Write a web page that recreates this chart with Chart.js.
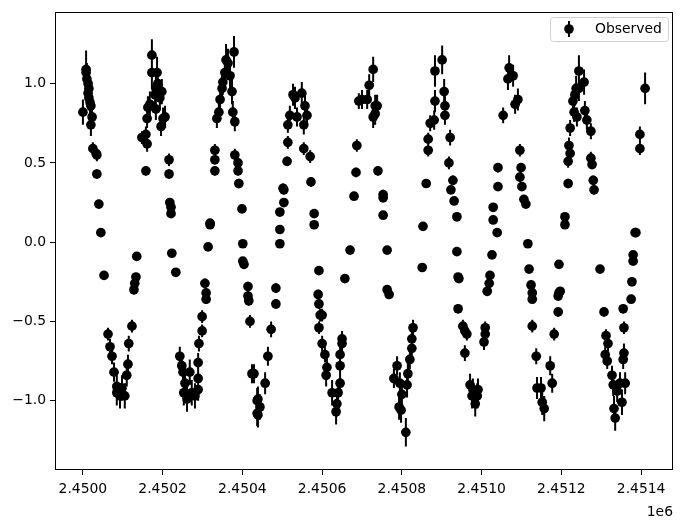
<!DOCTYPE html>
<html>
<head>
<meta charset="utf-8">
<script src="https://cdn.jsdelivr.net/npm/chart.js@4.4.0/dist/chart.umd.min.js"></script>
<style>
  html, body { margin: 0; padding: 0; background: #fff; }
  #wrap { width: 683px; height: 523px; }
</style>
</head>
<body>
<div id="wrap"><canvas id="chart-lc" width="683" height="523"></canvas></div>
<script>
// Light curve — observed magnitudes with error bars

const T0 = 2450000;

// days after T0
const tDays = [
    0, 8, 8, 10, 13, 15, 13, 15, 18, 20,
    23, 20, 25, 33, 35, 35, 40, 45, 53, 63,
    68, 73, 78, 85, 93, 105, 85, 98, 110, 113,
    115, 123, 128, 130, 133, 135, 148, 158, 161, 158,
    161, 163, 168, 173, 173, 183, 181, 186, 188, 183,
    193, 198, 201, 196, 206, 216, 216, 218, 221, 221,
    223, 233, 243, 248, 251, 256, 253, 261, 268, 273,
    281, 289, 289, 289, 291, 299, 299, 306, 309, 309,
    314, 319, 319, 331, 331, 331, 336, 341, 344, 349,
    351, 356, 359, 364, 369, 374, 379, 376, 381, 381,
    389, 389, 391, 399, 401, 401, 404, 414, 414, 416,
    419, 424, 429, 437, 437, 439, 444, 439, 457, 464,
    472, 484, 484, 494, 494, 494, 504, 504, 502, 512,
    514, 514, 519, 527, 532, 537, 549, 557, 562, 554,
    554, 570, 572, 580, 580, 592, 590, 592, 600, 595,
    592, 600, 607, 612, 610, 625, 637, 635, 640, 645,
    645, 645, 650, 650, 657, 670, 680, 685, 687, 692,
    700, 713, 718, 728, 733, 738, 728, 733, 740, 753,
    753, 753, 763, 763, 768, 780, 788, 795, 800, 793,
    798, 810, 813, 815, 820, 825, 825, 828, 851, 853,
    861, 866, 866, 871, 881, 883, 883, 901, 906, 908,
    908, 921, 918, 928, 923, 931, 938, 938, 941, 943,
    941, 953, 958, 963, 958, 971, 978, 991, 984, 976,
    989, 1009, 1009, 1006, 1014, 1019, 1021, 1026, 1039, 1029,
    1029, 1041, 1041, 1054, 1066, 1069, 1079, 1084, 1091, 1096,
    1099, 1096, 1101, 1106, 1111, 1116, 1119, 1124, 1127, 1127,
    1127, 1137, 1139, 1149, 1152, 1157, 1172, 1177, 1182, 1192,
    1192, 1194, 1194, 1197, 1209, 1209, 1217, 1217, 1222, 1219,
    1222, 1232, 1229, 1234, 1237, 1244, 1244, 1239, 1257, 1259,
    1264, 1274, 1274, 1277, 1280, 1282, 1297, 1307, 1312, 1317,
    1310, 1315, 1327, 1330, 1332, 1335, 1340, 1347, 1352, 1355,
    1357, 1360, 1357, 1355, 1375, 1377, 1380, 1380, 1385, 1387,
    1397, 1397, 1410
];

const mag = [
    0.82, 1.09, 1.07, 1.03, 1.00, 0.97, 0.94, 0.91, 0.88, 0.86,
    0.79, 0.74, 0.59, 0.56, 0.55, 0.43, 0.24, 0.06, -0.21, -0.58,
    -0.66, -0.72, -0.82, -0.91, -0.97, -0.97, -0.95, -0.92, -0.84, -0.77,
    -0.64, -0.53, -0.30, -0.26, -0.22, -0.09, 0.66, 0.68, 0.62, 0.45,
    0.78, 0.85, 0.87, 1.18, 1.07, 0.97, 0.93, 1.07, 1.00, 0.84,
    0.91, 0.95, 0.78, 0.73, 0.79, 0.52, 0.43, 0.25, 0.22, 0.18,
    -0.07, -0.19, -0.72, -0.78, -0.82, -0.89, -0.95, -0.99, -0.82, -0.95,
    -0.97, -0.93, -0.86, -0.76, -0.64, -0.56, -0.47, -0.26, -0.32, -0.36,
    -0.03, 0.12, 0.11, 0.45, 0.52, 0.58, 0.78, 0.82, 0.90, 0.97,
    1.01, 1.07, 1.15, 1.13, 1.05, 0.95, 1.20, 0.82, 0.76, 0.55,
    0.50, 0.45, 0.37, 0.21, -0.01, -0.12, -0.14, -0.28, -0.34, -0.37,
    -0.50, -0.83, -0.83, -1.00, -1.08, -0.99, -1.04, -1.09, -0.89, -0.72,
    -0.55, -0.39, -0.29, -0.01, 0.08, 0.19, 0.25, 0.33, 0.34, 0.51,
    0.63, 0.74, 0.80, 0.93, 0.91, 0.79, 0.94, 0.86, 0.80, 0.74,
    0.59, 0.54, 0.38, 0.18, 0.11, -0.18, -0.33, -0.39, -0.46, -0.46,
    -0.54, -0.64, -0.71, -0.79, -0.84, -0.95, -1.02, -1.07, -0.95, -0.89,
    -0.78, -0.71, -0.61, -0.64, -0.23, -0.05, 0.29, 0.44, 0.61, 0.89,
    0.90, 0.90, 0.99, 1.09, 0.86, 0.86, 0.79, 0.81, 0.45, 0.30,
    0.28, 0.17, -0.05, -0.30, -0.33, -0.86, -0.78, -0.89, -0.96, -1.04,
    -1.06, -1.20, -0.90, -0.83, -0.74, -0.67, -0.61, -0.54, -0.16, 0.10,
    0.37, 0.58, 0.65, 0.75, 0.77, 0.89, 1.08, 1.15, 0.95, 0.86,
    0.80, 0.66, 0.50, 0.39, 0.33, 0.26, 0.16, -0.06, -0.22, -0.23,
    -0.42, -0.53, -0.56, -0.58, -0.70, -0.90, -0.93, -0.93, -1.02, -0.97,
    -0.97, -0.54, -0.58, -0.63, -0.31, -0.26, -0.21, -0.08, 0.06, 0.14,
    0.22, 0.35, 0.47, 0.80, 1.03, 1.10, 1.05, 0.87, 0.90, 0.58,
    0.47, 0.41, 0.35, 0.27, 0.24, -0.01, -0.17, -0.27, -0.32, -0.36,
    -0.53, -0.72, -0.92, -0.92, -1.01, -1.05, -0.78, -0.89, -0.58, -0.44,
    -0.34, -0.32, -0.14, -0.31, 0.16, 0.11, 0.37, 0.51, 0.56, 0.61,
    0.72, 0.82, 0.89, 0.93, 0.97, 1.08, 0.97, 0.79, 1.01, 0.83,
    0.77, 0.70, 0.53, 0.49, 0.39, 0.33, -0.17, -0.44, -0.59, -0.64,
    -0.71, -0.75, -0.84, -0.90, -1.05, -1.11, -0.94, -0.89, -1.01, -0.74,
    -0.70, -0.89, -0.54, -0.42, -0.36, -0.25, -0.12, -0.08, 0.06, 0.06,
    0.59, 0.68, 0.97
];

const magErr = [
    0.08, 0.12, 0.10, 0.10, 0.10, 0.08, 0.08, 0.08, 0.08, 0.07,
    0.07, 0.07, 0.04, 0.03, 0.04, 0.03, 0.02, 0.02, 0.02, 0.04,
    0.05, 0.05, 0.06, 0.07, 0.08, 0.08, 0.08, 0.08, 0.07, 0.06,
    0.05, 0.04, 0.03, 0.03, 0.02, 0.02, 0.04, 0.05, 0.05, 0.03,
    0.06, 0.07, 0.08, 0.10, 0.10, 0.08, 0.08, 0.10, 0.09, 0.07,
    0.08, 0.08, 0.07, 0.06, 0.07, 0.04, 0.03, 0.02, 0.02, 0.02,
    0.02, 0.02, 0.06, 0.06, 0.07, 0.08, 0.08, 0.08, 0.08, 0.08,
    0.08, 0.07, 0.07, 0.06, 0.05, 0.04, 0.04, 0.03, 0.03, 0.03,
    0.02, 0.02, 0.02, 0.03, 0.03, 0.04, 0.06, 0.06, 0.07, 0.08,
    0.08, 0.09, 0.10, 0.09, 0.09, 0.08, 0.10, 0.07, 0.06, 0.04,
    0.04, 0.03, 0.03, 0.02, 0.02, 0.02, 0.02, 0.03, 0.03, 0.03,
    0.04, 0.06, 0.06, 0.08, 0.08, 0.08, 0.08, 0.08, 0.07, 0.06,
    0.05, 0.03, 0.03, 0.02, 0.02, 0.02, 0.02, 0.03, 0.03, 0.03,
    0.04, 0.05, 0.06, 0.07, 0.07, 0.06, 0.07, 0.07, 0.06, 0.06,
    0.04, 0.04, 0.03, 0.02, 0.02, 0.02, 0.03, 0.03, 0.04, 0.04,
    0.04, 0.05, 0.05, 0.06, 0.07, 0.08, 0.08, 0.08, 0.08, 0.07,
    0.06, 0.05, 0.05, 0.05, 0.02, 0.02, 0.02, 0.03, 0.04, 0.05,
    0.06, 0.06, 0.07, 0.08, 0.07, 0.07, 0.07, 0.07, 0.03, 0.03,
    0.02, 0.02, 0.02, 0.02, 0.02, 0.06, 0.06, 0.07, 0.08, 0.08,
    0.08, 0.09, 0.08, 0.07, 0.06, 0.06, 0.05, 0.05, 0.02, 0.02,
    0.02, 0.04, 0.04, 0.05, 0.06, 0.07, 0.10, 0.09, 0.08, 0.07,
    0.06, 0.05, 0.04, 0.03, 0.02, 0.02, 0.02, 0.02, 0.02, 0.02,
    0.03, 0.04, 0.04, 0.04, 0.05, 0.07, 0.07, 0.07, 0.08, 0.08,
    0.08, 0.04, 0.04, 0.05, 0.02, 0.02, 0.02, 0.02, 0.02, 0.02,
    0.02, 0.02, 0.03, 0.05, 0.07, 0.08, 0.07, 0.06, 0.07, 0.04,
    0.03, 0.03, 0.02, 0.02, 0.02, 0.02, 0.02, 0.02, 0.02, 0.02,
    0.04, 0.05, 0.07, 0.07, 0.08, 0.08, 0.06, 0.06, 0.04, 0.03,
    0.02, 0.02, 0.02, 0.02, 0.02, 0.02, 0.03, 0.04, 0.04, 0.05,
    0.05, 0.06, 0.07, 0.07, 0.08, 0.10, 0.08, 0.06, 0.08, 0.06,
    0.06, 0.05, 0.04, 0.03, 0.03, 0.03, 0.02, 0.03, 0.04, 0.05,
    0.05, 0.05, 0.06, 0.07, 0.08, 0.08, 0.07, 0.07, 0.08, 0.06,
    0.06, 0.07, 0.04, 0.03, 0.02, 0.02, 0.02, 0.02, 0.02, 0.02,
    0.04, 0.05, 0.10
];

const xTicks = [2450000, 2450200, 2450400, 2450600, 2450800, 2451000, 2451200, 2451400];
const yTicks = [-1.0, -0.5, 0.0, 0.5, 1.0];

const FONT = "'DejaVu Sans', sans-serif";

// Error bars behind the markers, frame + legend + offset label on top
const errorBarPlugin = {
    id: 'errorBars',
    beforeDatasetsDraw(chart) {
        const { ctx, chartArea, scales: { x, y } } = chart;
        ctx.save();
        ctx.beginPath();
        ctx.rect(chartArea.left, chartArea.top, chartArea.width, chartArea.height);
        ctx.clip();
        ctx.strokeStyle = '#000';
        ctx.lineWidth = 2;
        ctx.beginPath();
        tDays.forEach((t, i) => {
            const px = x.getPixelForValue(T0 + t);
            ctx.moveTo(px, y.getPixelForValue(mag[i] - magErr[i]));
            ctx.lineTo(px, y.getPixelForValue(mag[i] + magErr[i]));
        });
        ctx.stroke();
        ctx.restore();
    },
    afterDraw(chart) {
        const { ctx, chartArea } = chart;
        ctx.save();

        // frame
        ctx.strokeStyle = '#000';
        ctx.lineWidth = 1;
        ctx.strokeRect(Math.round(chartArea.left) + 0.5, Math.round(chartArea.top) + 0.5,
            Math.round(chartArea.width) - 1, Math.round(chartArea.height) - 1);

        // legend
        const lx = 550.5, ly = 17.5, lw = 118, lh = 24;
        ctx.fillStyle = 'rgba(255,255,255,0.8)';
        ctx.strokeStyle = '#d0d0d0';
        ctx.beginPath();
        ctx.roundRect(lx, ly, lw, lh, 3);
        ctx.fill();
        ctx.stroke();

        ctx.strokeStyle = '#000';
        ctx.lineWidth = 2;
        ctx.beginPath();
        ctx.moveTo(569, 21);
        ctx.lineTo(569, 37);
        ctx.stroke();
        ctx.fillStyle = '#000';
        ctx.beginPath();
        ctx.arc(569, 29, 4.8, 0, Math.PI * 2);
        ctx.fill();

        ctx.font = '13.9px ' + FONT;
        ctx.textAlign = 'left';
        ctx.textBaseline = 'middle';
        ctx.fillText('Observed', 595, 29.5);

        // offset text for x axis
        ctx.textAlign = 'right';
        ctx.textBaseline = 'alphabetic';
        ctx.fillText('1e6', chartArea.right, 516);

        ctx.restore();
    }
};

const ctxLc = document.getElementById('chart-lc').getContext('2d');
new Chart(ctxLc, {
    type: 'scatter',
    data: {
        datasets: [{
            label: 'Observed',
            data: tDays.map((t, i) => ({ x: T0 + t, y: mag[i] })),
            pointRadius: 4.85,
            pointHoverRadius: 4.85,
            pointBackgroundColor: '#000',
            pointBorderColor: '#000',
            pointBorderWidth: 0,
            showLine: false
        }]
    },
    options: {
        responsive: false,
        animation: false,
        events: [],
        layout: { padding: { top: 8, right: 10, left: 0, bottom: 0 } },
        plugins: {
            legend: { display: false },
            tooltip: { enabled: false }
        },
        scales: {
            x: {
                type: 'linear',
                min: 2449930,
                max: 2451480,
                afterBuildTicks: s => { s.ticks = xTicks.map(v => ({ value: v })); },
                afterFit: s => { s.height = 53; },
                ticks: {
                    callback: v => (v / 1e6).toFixed(4),
                    color: '#000',
                    font: { family: FONT, size: 13.9 },
                    padding: 6,
                    maxRotation: 0,
                    autoSkip: false
                },
                grid: { drawOnChartArea: false, tickLength: 5, color: '#000', tickColor: '#000', tickWidth: 1 },
                border: { display: false }
            },
            y: {
                type: 'linear',
                min: -1.4375,
                max: 1.45,
                afterBuildTicks: s => { s.ticks = yTicks.map(v => ({ value: v })); },
                afterFit: s => { s.width = 55; },
                ticks: {
                    callback: v => v.toFixed(1).replace('-', '\u2212'),
                    color: '#000',
                    font: { family: FONT, size: 13.9 },
                    padding: 4,
                    autoSkip: false
                },
                grid: { drawOnChartArea: false, tickLength: 5, color: '#000', tickColor: '#000', tickWidth: 1 },
                border: { display: false }
            }
        }
    },
    plugins: [errorBarPlugin]
});
</script>
</body>
</html>
